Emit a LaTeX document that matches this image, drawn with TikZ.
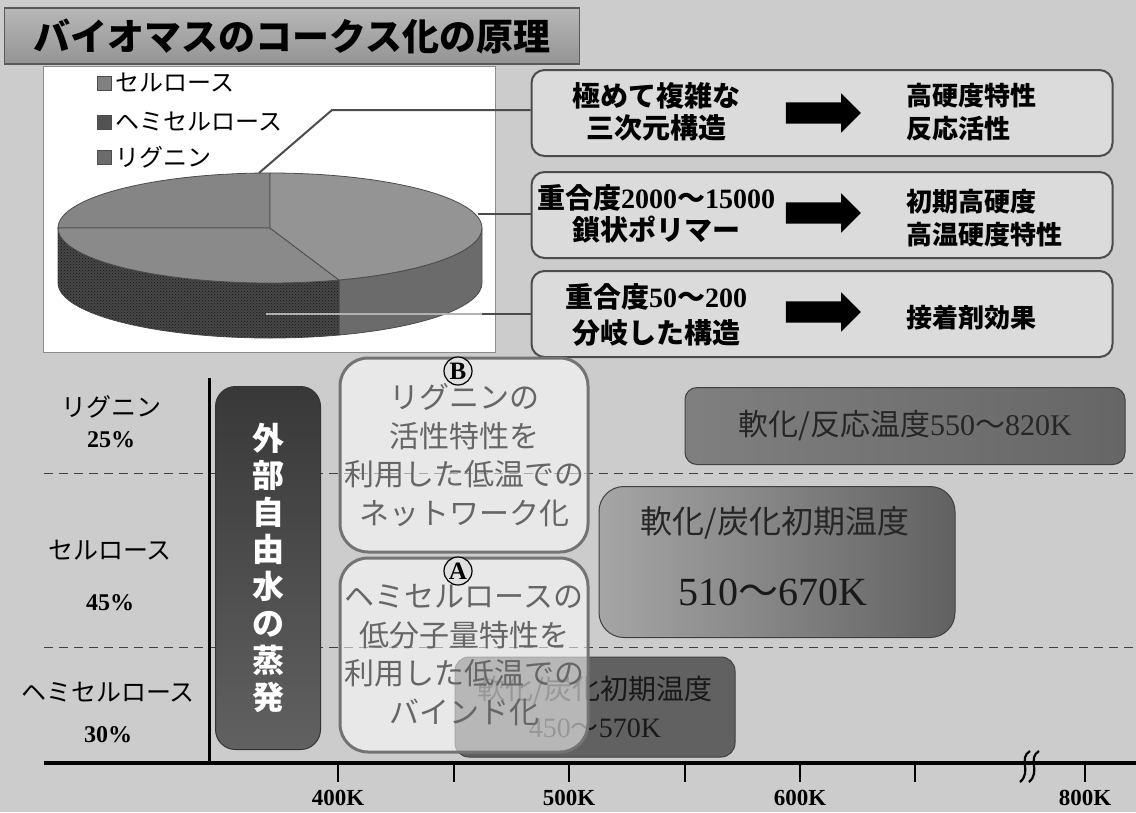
\documentclass[tikz,border=0pt]{standalone}
\usepackage{fontspec}
\setmainfont{Liberation Serif}
\newfontfamily\jp{Noto Sans CJK JP}
\usetikzlibrary{positioning, shapes.arrows, patterns}
\newcommand{\rn}[1]{{\rmfamily #1}}
\newcommand{\rb}[1]{{\rmfamily\bfseries #1}}
\tikzset {
  titlebar/.style = {draw=black!65, line width=1.5pt, top color=black!28, bottom color=black!42, minimum width=575, minimum height=56, inner sep=0, font=\jp\bfseries\fontsize{37}{40}\selectfont},
  panel/.style = {draw=black!45, line width=1pt, fill=white, minimum width=452, minimum height=286, inner sep=0},
  legsq/.style = {draw=black!70, line width=0.6pt, minimum size=14, inner sep=0},
  legtxt/.style = {font=\jp\fontsize{24}{26}\selectfont, inner sep=0},
  pieface/.style = {draw=black!70, line width=0.8pt},
  leader/.style = {draw=black!70, line width=2pt},
  infobox/.style = {draw=black!70, line width=2pt, fill=black!14, rounded corners=13, minimum width=581, minimum height=86},
  boxtxt/.style = {font=\jp\bfseries\fontsize{28}{32}\selectfont, align=center, inner sep=0},
  restxt/.style = {font=\jp\bfseries\fontsize{26}{33}\selectfont, align=left, anchor=west, inner sep=0},
  bigarrow/.style = {single arrow, fill=black, minimum height=75, minimum width=39, single arrow head extend=9, inner xsep=0, inner ysep=10.5pt},
  divider/.style = {dash pattern=on 9pt off 6pt, line width=1pt, draw=black!75},
  axisline/.style = {line width=4pt, draw=black},
  axistick/.style = {line width=1.5pt, draw=black},
  ticklabel/.style = {font=\rmfamily\bfseries\fontsize{23}{25}\selectfont},
  complabel/.style = {font=\jp\fontsize{25}{27}\selectfont},
  pctlabel/.style = {font=\rmfamily\bfseries\fontsize{24}{26}\selectfont},
  waterbox/.style = {draw=black!80, line width=1pt, rounded corners=20, top color=black!78, bottom color=black!62, minimum width=105, minimum height=363, align=center, text=white, font=\jp\bfseries\fontsize{32}{37}\selectfont},
  bindbox/.style = {draw=black!55, line width=3pt, rounded corners=28, fill=white, fill opacity=0.55, text opacity=1, minimum width=248, minimum height=194, align=center, text=black!60, font=\jp\fontsize{30}{38.5}\selectfont},
  markcirc/.style = {circle, draw=black, line width=1.2pt, fill=black!12, inner sep=1pt, minimum size=28, font=\rmfamily\bfseries\fontsize{25}{25}\selectfont},
  reactbox/.style = {draw=black!75, line width=1pt, rounded corners=12, left color=black!50, right color=black!60, minimum width=440, minimum height=77, text=black!85, font=\jp\fontsize{30}{32}\selectfont},
  carbbox/.style = {draw=black!75, line width=1pt, rounded corners=25, left color=black!35, right color=black!62, minimum width=356, minimum height=151},
  lowbox/.style = {draw=black!75, line width=1pt, rounded corners=14, fill=black!62, minimum width=280, minimum height=100, align=center, text=black!90, font=\jp\fontsize{28}{38}\selectfont}
}

\begin{document}
\begin{tikzpicture}[x=1pt, y=-1pt]
    \useasboundingbox (0,0) rectangle (1136,812);
    \fill[black!20] (0,0) rectangle (1136,812);

    % title
    \node[titlebar] (title) at (292,36) {バイオマスのコークス化の原理};

    % pie chart panel
    \node[panel] (chart) at (269,209) {};
    \node[legsq, fill=black!50] (sq1) at (104,83) {};
    \node[legtxt, right=4pt of sq1] (leg1) {セルロース};
    \node[legsq, fill=black!68] (sq2) at (104,122) {};
    \node[legtxt, right=4pt of sq2] (leg2) {ヘミセルロース};
    \node[legsq, fill=black!58] (sq3) at (104,157) {};
    \node[legtxt, right=4pt of sq3] (leg3) {リグニン};

    \coordinate (pc) at (270,228);
    \draw[pieface, fill=black!58] (pc) ++(0:212 and 55) arc[start angle=0, end angle=71, x radius=212, y radius=55] -- ++(0,55) arc[start angle=71, end angle=0, x radius=212, y radius=55] -- cycle;
    \draw[pieface, fill=black!72, postaction={pattern=crosshatch dots, pattern color=black!92}] (pc) ++(71:212 and 55) arc[start angle=71, end angle=180, x radius=212, y radius=55] -- ++(0,55) arc[start angle=180, end angle=71, x radius=212, y radius=55] -- cycle;
    \draw[pieface, fill=black!48] (pc) -- ++(180:212 and 55) arc[start angle=180, end angle=270, x radius=212, y radius=55] -- cycle;
    \draw[pieface, fill=black!46] (pc) -- ++(71:212 and 55) arc[start angle=71, end angle=180, x radius=212, y radius=55] -- cycle;
    \draw[pieface, fill=black!42] (pc) -- ++(-90:212 and 55) arc[start angle=-90, end angle=71, x radius=212, y radius=55] -- cycle;

    % component boxes
    \node[infobox] (ligbox) at (822,113) {};
    \node[infobox] (celbox) at (822,215) {};
    \node[infobox] (hembox) at (822,314) {};

    \coordinate (ligpt) at (259,173);
    \coordinate (ligbend) at (332,110);
    \draw[leader] (ligpt) -- (ligbend) -- (ligbend -| ligbox.west);
    \coordinate (celpt) at (478,214);
    \draw[leader] (celpt) -- (celpt -| celbox.west);
    \coordinate (hempt) at (266,314);
    \coordinate (hemedge) at (482,314);
    \draw[leader, draw=black!30] (hempt) -- (hemedge);
    \draw[leader] (hemedge) -- (hemedge -| hembox.west);

    \node[boxtxt] (ligL) at (656,112) {極めて複雑な\\三次元構造};
    \node[bigarrow] (ligA) at (818,113) {};
    \node[restxt] (ligR) at (906,112) {高硬度特性\\反応活性};

    \node[boxtxt] (celL) at (656,214) {重合度\rb{2000}～\rb{15000}\\鎖状ポリマー};
    \node[bigarrow] (celA) at (818,213) {};
    \node[restxt] (celR) at (906,218) {初期高硬度\\高温硬度特性};

    \node[boxtxt, font=\jp\bfseries\fontsize{28}{36}\selectfont] (hemL) at (656,315) {重合度\rb{50}～\rb{200}\\分岐した構造};
    \node[bigarrow] (hemA) at (818,312) {};
    \node[restxt] (hemR) at (906,318) {接着剤効果};

    % temperature chart
    \draw[divider] (44,473) -- (1136,473);
    \draw[divider] (44,647) -- (1136,647);
    \coordinate (origin) at (209,763);
    \draw[axisline, line width=3pt] (209,378) -- (origin);
    \draw[axisline] (44,763) -- (1136,763);

    \node[complabel] (ligname) at (111,407) {リグニン};
    \node[pctlabel] (ligpct) at (111,440) {25\%};
    \node[complabel] (celname) at (110,550) {セルロース};
    \node[pctlabel] (celpct) at (110,603) {45\%};
    \node[complabel] (hemname) at (108,692) {ヘミセルロース};
    \node[pctlabel] (hempct) at (108,735) {30\%};

    \node[waterbox] (water) at (268,568) {外\\部\\自\\由\\水\\の\\蒸\\発};

    \node[lowbox] (hemlow) at (595,707) {軟化/炭化初期温度\\\rn{450}～\rn{570K}};
    \node[bindbox] (netB) at (464,455) {リグニンの\\活性特性を\\利用した低温での\\ネットワーク化};
    \node[bindbox] (bindA) at (464,655) {ヘミセルロースの\\低分子量特性を\\利用した低温での\\バインド化};
    \node[markcirc] (markB) at (458,371) {B};
    \node[markcirc] (markA) at (458,571) {A};

    \node[reactbox] (react) at (905,426) {軟化/反応温度\rn{550}～\rn{820K}};
    \node[carbbox] (carb) at (777,562) {};
    \node[text=black!85, font=\jp\fontsize{32}{34}\selectfont] (carbT) at (775,523) {軟化/炭化初期温度};
    \node[text=black!90, font=\jp\fontsize{40}{42}\selectfont] (carbN) at (773,592) {\rn{510}～\rn{670K}};

    % axis ticks
    \foreach \tx in {338,454,569,685,800,915,1085}
      \draw[axistick] (\tx,763) -- ++(0,19);
    \foreach \tx/\tl in {338/400K, 569/500K, 800/600K, 1085/800K}
      \node[ticklabel] (lab\tl) at (\tx,798) {\tl};
    \foreach \bx in {1024,1033}
      \draw[line width=2.2pt] (\bx+6,751) .. controls (\bx-6,758) and (\bx+8,772) .. (\bx-4,782);

\end{tikzpicture}
\end{document}
